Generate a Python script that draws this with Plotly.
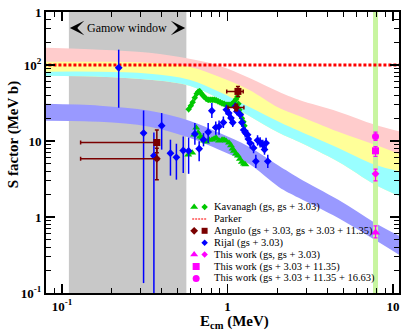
import math
import plotly.graph_objects as go

FONT = "Liberation Serif"
GREEN = "#00c800"
BLUE = "#0000ff"
MAROON = "#7a0000"
MAGENTA = "#ff00ff"
RED = "#ff0000"
PINK = "#ffcccc"
YELLOW = "#ffff99"
CYAN = "#99ffff"
LAVENDER = "#9999ff"
GRAY = "#c8c8c8"
LIGHTGREEN = "#c8f5a0"

# ---------------- axes ----------------
E_RANGE = [0.080, 10.87]
S_RANGE = [0.1, 498.0]
X_TICKS = [0.1, 1, 10]
X_TICKTEXT = ["<b>10<sup>-1</sup></b>", "<b>1</b>", "<b>10</b>"]
X_MINOR = [0.08, 0.09, 0.2, 0.3, 0.4, 0.5, 0.6, 0.7, 0.8, 0.9,
           2, 3, 4, 5, 6, 7, 8, 9]
Y_TICKS = [0.1, 1, 10, 100, 494]
Y_TICKTEXT = ["<b>10<sup>-1</sup></b>", "<b>1</b>", "<b>10</b>", "<b>10<sup>2</sup></b>", "<b>1</b>"]
Y_MINOR = [0.2, 0.3, 0.4, 0.5, 0.6, 0.7, 0.8, 0.9,
           2, 3, 4, 5, 6, 7, 8, 9,
           20, 30, 40, 50, 60, 70, 80, 90,
           200, 300, 400]

GAMOW = [0.110, 0.564]
E_THIS = 7.84

# ---------------- this-work bands ----------------
BAND_E = [0.075, 0.169, 0.338, 0.588, 0.889, 1.346, 2.04, 2.69, 4.67, 7.80, 11.2]
PINK_HI = [169, 159, 145, 121, 98, 68, 44.5, 34.9, 24.3, 16.3, 13.2]
PINK_LO = [110, 110, 107, 95, 70, 47.3, 27.4, 21.5, 13.2, 8.9, 6.6]
YELLOW_LO = [81.6, 81.6, 76.8, 64.0, 44.5, 28.2, 17.9, 13.6, 8.1, 4.86, 3.93]
CYAN_LO = [72.3, 70.2, 64.0, 53.4, 36.0, 21.5, 12.8, 9.76, 5.32, 2.65, 1.84]
BLUE_HI = [30.9, 29.1, 25.0, 18.5, 12.8, 8.39, 4.71, 3.27, 1.68, 0.835, 0.547]
BLUE_LO = [18.5, 17.9, 15.4, 11.0, 7.66, 5.01, 2.49, 1.79, 0.97, 0.499, 0.307]

# ---------------- Kavanagh ----------------
KAV_GS_E = [0.579, 0.612, 0.629, 0.647, 0.665, 0.684, 0.703, 0.723, 0.743, 0.774,
            0.807, 0.830, 0.853, 0.889, 0.927, 0.953, 0.979, 1.021, 1.049, 1.072,
            1.094, 1.125, 1.156, 1.188, 1.221, 1.256, 1.282]
KAV_GS_S = [6.6, 7.0, 12.1, 14.9, 12.8, 11.4, 11.0, 10.1, 9.8, 10.4,
            10.4, 10.7, 11.0, 10.1, 10.4, 10.4, 10.1, 9.5, 8.7, 7.9,
            7.4, 6.8, 6.4, 5.8, 5.3, 5.0, 4.9]
KAV_EX_E = [0.582, 0.600, 0.616, 0.634, 0.651, 0.665, 0.679, 0.693, 0.708, 0.723,
            0.743, 0.764, 0.785, 0.807, 0.830, 0.853, 0.877, 0.902, 0.927, 0.953,
            0.980, 1.007, 1.035, 1.064, 1.094, 1.125, 1.148, 1.164, 1.180, 1.197,
            1.222, 1.248, 1.265]
KAV_EX_S = [26.2, 29.1, 32.4, 37.1, 41.9, 44.5, 45.2, 42.5, 40.0, 38.2,
            36.0, 34.9, 34.9, 34.9, 34.9, 34.4, 33.3, 32.4, 31.4, 30.9,
            30.0, 30.0, 30.0, 30.5, 32.8, 35.4, 38.2, 30.9, 25.8, 22.8,
            19.9, 17.9, 15.9]

# ---------------- Parker ----------------
PARKER_S = 100.0

# ---------------- Angulo ----------------
ANG_D_E = [0.374, 1.129]
ANG_D_S = [5.83, 27.6]
ANG_D_S_HI = [8.0, 30.5]
ANG_D_S_LO = [3.1, 25.0]
ANG_D_E_LO = [0.1295, 1.007]
ANG_D_E_HI = [0.383, 1.256]
ANG_Q_E = [0.374, 1.156]
ANG_Q_S = [9.55, 44.9]
ANG_Q_S_HI = [14.0, 52.2]
ANG_Q_S_LO = [7.0, 38.6]
ANG_Q_E_LO = [0.1295, 0.989]
ANG_Q_E_HI = [0.383, 1.244]

# ---------------- Rijal ----------------
RIJ_E = [0.220, 0.311, 0.359, 0.400, 0.452, 0.491, 0.540, 0.582, 0.635, 0.674,
         0.716, 0.764, 0.804, 0.849, 0.889, 0.944, 0.984, 1.017, 1.049, 1.075,
         1.114, 1.140, 1.194, 1.222, 1.252, 1.279, 1.322, 1.336, 1.371, 1.437,
         1.519, 1.574, 1.634, 1.673, 1.710, 1.483, 1.751]
RIJ_S = [92, 12.7, 6.4, 15.9, 6.9, 6.1, 7.5, 7.4, 12.4, 7.9,
         10.4, 13.1, 25.0, 15.1, 15.5, 17.5, 25.8, 23.3, 20.0, 17.5,
         28.5, 24.5, 22.1, 17.5, 14.0, 12.9, 12.1, 10.6, 9.4, 8.1,
         10.2, 9.6, 8.9, 7.7, 9.4, 5.4, 5.4]
RIJ_HI = [159, 25.2, 12.9, 23.3, 10.4, 9.2, 11.5, 11.1, 17.2, 9.9,
          12.7, 17.2, 31.6, 18.1, 18.6, 21.0, 30.0, 26.5, 23.0, 20.0,
          32.0, 27.5, 25.0, 20.0, 16.2, 15.0, 14.0, 12.3, 11.0, 9.5,
          11.9, 11.2, 10.4, 9.0, 11.0, 6.6, 6.6]
RIJ_LO = [27.4, 0.135, 0.01, 7.7, 3.5, 3.1, 3.8, 3.7, 8.9, 5.4,
          8.5, 9.4, 20.0, 12.1, 12.1, 14.8, 22.1, 20.5, 17.5, 15.3,
          25.5, 21.8, 19.5, 15.3, 12.1, 11.1, 10.4, 9.1, 8.0, 6.9,
          8.7, 8.2, 7.6, 6.6, 8.0, 4.4, 4.4]

# ---------------- this work (at 7.84 MeV) ----------------
TW_NAMES = ["gs", "gs+3.03", "gs+3.03+11.35", "gs+3.03+11.35+16.63"]
TW_S = [0.623, 3.70, 7.43, 11.5]
TW_HI = [0.763, 4.26, 8.46, 13.1]
TW_LO = [0.530, 2.99, 6.25, 10.2]
TW_SYMBOLS = ["triangle-up", "diamond", "square", "circle"]
TW_SIZES = [8, 6, 7, 7]

LEGEND_LABELS = [
    "Kavanagh (gs, gs + 3.03)",
    "Parker",
    "Angulo (gs + 3.03, gs + 3.03 + 11.35)",
    "Rijal (gs + 3.03)",
    "This work (gs, gs + 3.03)",
    "This work (gs + 3.03 + 11.35)",
    "This work (gs + 3.03 + 11.35 + 16.63)",
]

fig = go.Figure()


def add_band(lo, hi, color):
    fig.add_trace(go.Scatter(x=BAND_E, y=lo, mode="lines",
                             line=dict(width=0, shape="spline", color=color),
                             showlegend=False, hoverinfo="skip"))
    fig.add_trace(go.Scatter(x=BAND_E, y=hi, mode="lines",
                             line=dict(width=0, shape="spline", color=color),
                             fill="tonexty", fillcolor=color,
                             showlegend=False, hoverinfo="skip"))


add_band(YELLOW_LO, PINK_HI, PINK)
add_band(CYAN_LO, PINK_LO, YELLOW)
add_band(CYAN_LO, YELLOW_LO, CYAN)
add_band(BLUE_LO, BLUE_HI, LAVENDER)

# vertical light-green line at the energy of this work
fig.add_trace(go.Scatter(x=[E_THIS, E_THIS], y=[S_RANGE[0] / 2, S_RANGE[1] * 2],
                         mode="lines", line=dict(color=LIGHTGREEN, width=5),
                         showlegend=False, hoverinfo="skip"))

# Parker
fig.add_trace(go.Scatter(x=[E_RANGE[0] * 0.9, E_RANGE[1] * 1.1], y=[PARKER_S, PARKER_S],
                         mode="lines", line=dict(color=RED, width=3, dash="3px,2px"),
                         showlegend=False))

# Kavanagh
fig.add_trace(go.Scatter(x=KAV_EX_E, y=KAV_EX_S, mode="markers",
                         marker=dict(symbol="diamond", size=5, color=GREEN),
                         error_y=dict(type="percent", value=9, color=GREEN, thickness=1, width=0),
                         showlegend=False))
fig.add_trace(go.Scatter(x=KAV_GS_E, y=KAV_GS_S, mode="markers",
                         marker=dict(symbol="triangle-up", size=7, color=GREEN),
                         showlegend=False))

# Rijal
fig.add_trace(go.Scatter(x=RIJ_E, y=RIJ_S, mode="markers",
                         marker=dict(symbol="diamond", size=6, color=BLUE),
                         error_y=dict(type="data", symmetric=False,
                                      array=[h - s for h, s in zip(RIJ_HI, RIJ_S)],
                                      arrayminus=[s - l for s, l in zip(RIJ_S, RIJ_LO)],
                                      color=BLUE, thickness=1.5, width=0),
                         showlegend=False))

# Angulo
fig.add_trace(go.Scatter(x=ANG_Q_E, y=ANG_Q_S, mode="markers",
                         marker=dict(symbol="square", size=7, color=MAROON),
                         error_y=dict(type="data", symmetric=False,
                                      array=[h - s for h, s in zip(ANG_Q_S_HI, ANG_Q_S)],
                                      arrayminus=[s - l for s, l in zip(ANG_Q_S, ANG_Q_S_LO)],
                                      color=MAROON, thickness=1.5, width=2),
                         error_x=dict(type="data", symmetric=False,
                                      array=[h - e for h, e in zip(ANG_Q_E_HI, ANG_Q_E)],
                                      arrayminus=[e - l for e, l in zip(ANG_Q_E, ANG_Q_E_LO)],
                                      color=MAROON, thickness=1.5, width=2),
                         showlegend=False))
fig.add_trace(go.Scatter(x=ANG_D_E, y=ANG_D_S, mode="markers",
                         marker=dict(symbol="diamond", size=6, color=MAROON),
                         error_y=dict(type="data", symmetric=False,
                                      array=[h - s for h, s in zip(ANG_D_S_HI, ANG_D_S)],
                                      arrayminus=[s - l for s, l in zip(ANG_D_S, ANG_D_S_LO)],
                                      color=MAROON, thickness=1.5, width=2),
                         error_x=dict(type="data", symmetric=False,
                                      array=[h - e for h, e in zip(ANG_D_E_HI, ANG_D_E)],
                                      arrayminus=[e - l for e, l in zip(ANG_D_E, ANG_D_E_LO)],
                                      color=MAROON, thickness=1.5, width=2),
                         showlegend=False))

# This work
for s, hi, lo, sym, sz in zip(TW_S, TW_HI, TW_LO, TW_SYMBOLS, TW_SIZES):
    fig.add_trace(go.Scatter(x=[E_THIS], y=[s], mode="markers",
                             marker=dict(symbol=sym, size=sz, color=MAGENTA),
                             error_y=dict(type="data", symmetric=False, array=[hi - s],
                                          arrayminus=[s - lo], color=MAGENTA,
                                          thickness=1.2, width=2),
                             showlegend=False))

# ---------------- custom legend (overlay paper-like axes) ----------------
PLOT_L, PLOT_R, PLOT_T, PLOT_B = 46, 401, 12, 293
W, H = 403, 332


def px_x(x):
    return (x - PLOT_L) / (PLOT_R - PLOT_L)


def px_y(y):
    return (PLOT_B - y) / (PLOT_B - PLOT_T)


LEG_TOP, LEG_STEP = 207, 11.9
rows = [px_y(LEG_TOP + i * LEG_STEP) for i in range(len(LEGEND_LABELS))]
slot1, slot2, slot_c = px_x(195), px_x(205.5), px_x(197)

LEG_MARKERS = [
    (slot1, 0, "triangle-up", 7, GREEN), (slot2, 0, "diamond", 5, GREEN),
    (slot1, 2, "diamond", 6, MAROON), (slot2, 2, "square", 6, MAROON),
    (slot2, 3, "diamond", 5, BLUE),
    (slot1, 4, "triangle-up", 7, MAGENTA), (slot2, 4, "diamond", 5, MAGENTA),
    (slot_c, 5, "square", 7, MAGENTA),
    (slot_c, 6, "circle", 7, MAGENTA),
]
for lx, r, sym, sz, col in LEG_MARKERS:
    fig.add_trace(go.Scatter(x=[lx], y=[rows[r]], xaxis="x2", yaxis="y2", mode="markers",
                             marker=dict(symbol=sym, size=sz, color=col),
                             showlegend=False, hoverinfo="skip"))
fig.add_trace(go.Scatter(x=[px_x(193), px_x(208)], y=[rows[1], rows[1]], xaxis="x2", yaxis="y2",
                         mode="lines", line=dict(color="#ff5050", width=1.5, dash="2px,1px"),
                         showlegend=False, hoverinfo="skip"))

annotations = []
for r, lab in zip(rows, LEGEND_LABELS):
    annotations.append(dict(x=px_x(213), y=r, xref="paper", yref="paper", text=lab,
                            showarrow=False, xanchor="left", yanchor="middle",
                            font=dict(family=FONT, size=10.5, color="black")))

# Gamow window label and arrows
annotations.append(dict(x=px_x(127.5), y=px_y(28), xref="paper", yref="paper",
                        text="Gamow window", showarrow=False,
                        xanchor="center", yanchor="middle",
                        font=dict(family=FONT, size=12, color="black")))
annotations.append(dict(x=px_x(70), y=px_y(28), xref="paper", yref="paper", text="",
                        showarrow=True, ax=9, ay=0, arrowhead=3, arrowsize=2.0,
                        arrowwidth=1.2, arrowcolor="black"))
annotations.append(dict(x=px_x(186), y=px_y(28), xref="paper", yref="paper", text="",
                        showarrow=True, ax=-9, ay=0, arrowhead=3, arrowsize=2.0,
                        arrowwidth=1.2, arrowcolor="black"))

# axis titles
annotations.append(dict(x=px_x(13.5), y=px_y(134.5), xref="paper", yref="paper",
                        text="<b>S factor (MeV b)</b>", textangle=-90, showarrow=False,
                        xanchor="center", yanchor="middle",
                        font=dict(family=FONT, size=15, color="black")))
annotations.append(dict(x=px_x(236), y=px_y(322), xref="paper", yref="paper",
                        text="<b>E<sub>cm</sub> (MeV)</b>", showarrow=False,
                        xanchor="center", yanchor="middle",
                        font=dict(family=FONT, size=15, color="black")))

axis_common = dict(type="log", tickmode="array", ticks="inside", ticklen=9, tickwidth=1.3,
                   tickcolor="black", showline=True, linecolor="black", linewidth=2,
                   mirror="ticks", showgrid=False, zeroline=False,
                   tickfont=dict(family=FONT, size=13, color="black"))

fig.update_layout(
    width=W, height=H,
    margin=dict(l=PLOT_L, r=W - PLOT_R, t=PLOT_T, b=H - PLOT_B),
    paper_bgcolor="white", plot_bgcolor="white", showlegend=False,
    font=dict(family=FONT, color="black"),
    xaxis=dict(range=[math.log10(E_RANGE[0]), math.log10(E_RANGE[1])],
               tickvals=X_TICKS, ticktext=X_TICKTEXT,
               minor=dict(tickvals=X_MINOR, ticks="inside", ticklen=5, tickwidth=1,
                          tickcolor="black", showgrid=False),
               **axis_common),
    yaxis=dict(range=[math.log10(S_RANGE[0]), math.log10(S_RANGE[1])],
               tickvals=Y_TICKS, ticktext=Y_TICKTEXT,
               minor=dict(tickvals=Y_MINOR, ticks="inside", ticklen=5, tickwidth=1,
                          tickcolor="black", showgrid=False),
               **axis_common),
    xaxis2=dict(overlaying="x", range=[0, 1], visible=False, fixedrange=True),
    yaxis2=dict(overlaying="y", range=[0, 1], visible=False, fixedrange=True),
    shapes=[dict(type="rect", xref="x", yref="paper", x0=GAMOW[0], x1=GAMOW[1],
                 y0=0, y1=1, fillcolor=GRAY, line=dict(width=0), layer="below")],
    annotations=annotations,
)

fig.write_html("out.html", config={"displayModeBar": False, "staticPlot": True},
               post_script="document.body.style.margin='0';document.body.style.padding='0';"
                           "document.documentElement.style.overflow='hidden';")
